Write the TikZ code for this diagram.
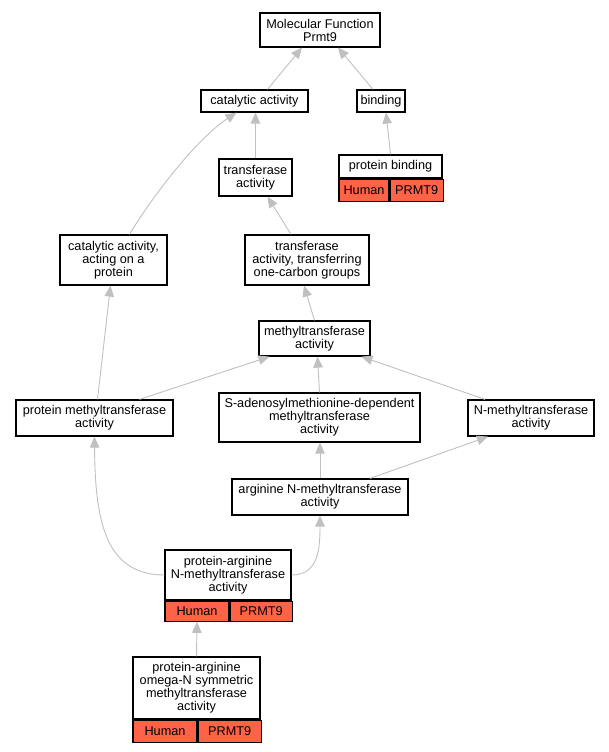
\documentclass[tikz,border=0pt]{standalone}
\usepackage{fontspec}
\setmainfont{Liberation Sans}
\usetikzlibrary{arrows.meta}

\definecolor{annotred}{RGB}{255,99,71}
\definecolor{edgegray}{RGB}{192,192,192}

\begin{document}
\begin{tikzpicture}[
    x=1pt, y=-1pt,
    font=\fontsize{12.7}{13}\selectfont,
    term/.style={draw,line width=1.2pt,fill=white,align=center,inner sep=0pt},
    annot/.style={draw,line width=1.2pt,fill=annotred,inner sep=0pt,minimum height=#1,anchor=north west},
    edge/.style={draw=edgegray,line width=0.9pt,-{Triangle[length=11pt,width=9.5pt,fill=edgegray]}}
]
\useasboundingbox (0,0) rectangle (609,752);

% Top levels
\node[term,minimum width=120pt,minimum height=34pt] (mf) at (320,30) {Molecular Function\\Prmt9};
\node[term,minimum width=107pt,minimum height=22pt] (cat) at (254.5,101) {catalytic activity};
\node[term,minimum width=48pt,minimum height=22pt] (bind) at (381,101) {binding};

\node[term,minimum width=73pt,minimum height=37pt] (trans) at (255.5,177.5) {transferase\\activity};

% protein binding with annotation
\node[term,minimum width=103pt,minimum height=23pt] (pbind) at (390.5,166.5) {protein binding};
\node[annot=22pt,minimum width=50pt] (pbind-h) at (pbind.south west) {Human};
\node[annot=22pt,minimum width=53pt] (pbind-g) at (pbind-h.north east) {PRMT9};

% Middle levels
\node[term,minimum width=107pt,minimum height=50pt] (cap) at (113.5,260) {catalytic activity,\\acting on a\\protein};
\node[term,minimum width=124pt,minimum height=50pt] (onec) at (307,260) {transferase\\activity, transferring\\one-carbon groups};
\node[term,minimum width=111pt,minimum height=35pt] (meth) at (314.5,338.5) {methyltransferase\\activity};

\node[term,minimum width=157pt,minimum height=36pt] (pmeth) at (94.5,418) {protein methyltransferase\\activity};
\node[term,minimum width=201pt,minimum height=49pt] (sam) at (319.5,417.5) {S-adenosylmethionine-dependent\\methyltransferase\\activity};
\node[term,minimum width=126pt,minimum height=36pt] (nmeth) at (531,418) {N-methyltransferase\\activity};

\node[term,minimum width=176pt,minimum height=36pt] (arg) at (320,497) {arginine N-methyltransferase\\activity};

% Annotated leaves
\node[term,minimum width=126pt,minimum height=50pt] (panm) at (228,575) {protein-arginine\\N-methyltransferase\\activity};
\node[annot=20pt,minimum width=64pt] (panm-h) at (panm.south west) {Human};
\node[annot=20pt,minimum width=62pt] (panm-g) at (panm-h.north east) {PRMT9};

\node[term,minimum width=127pt,minimum height=62pt] (omega) at (196.5,688) {protein-arginine\\omega-N symmetric\\methyltransferase\\activity};
\node[annot=22pt,minimum width=64pt] (omega-h) at (omega.south west) {Human};
\node[annot=22pt,minimum width=63pt] (omega-g) at (omega-h.north east) {PRMT9};

% Edges
\draw[edge] ([xshift=13pt]cat.north) -- ([xshift=-18pt]mf.south);
\draw[edge] ([xshift=-8pt]bind.north) -- ([xshift=18pt]mf.south);
\draw[edge] (trans.north) -- (trans.north |- cat.south);
\draw[edge] (pbind.north) -- ([xshift=5pt]bind.south);
\draw[edge] ([xshift=16pt]cap.north) .. controls (150,200) and (195,140) .. ([xshift=-18pt]cat.south);
\draw[edge] ([xshift=-16pt]onec.north) -- ([xshift=12pt]trans.south);
\draw[edge] (meth.north) -- ([xshift=-3pt]onec.south);
\draw[edge] ([xshift=3pt]pmeth.north) -- ([xshift=-3pt]cap.south);
\draw[edge] ([xshift=45pt]pmeth.north) -- ([xshift=-45pt]meth.south);
\draw[edge] (sam.north) -- ([xshift=3pt]meth.south);
\draw[edge] ([xshift=-46pt]nmeth.north) -- ([xshift=47pt]meth.south);
\draw[edge] (arg.north) -- (arg.north |- sam.south);
\draw[edge] ([xshift=50pt]arg.north) -- ([xshift=-43pt]nmeth.south);
\draw[edge] (panm.west) .. controls (105,575) and (95,520) .. (pmeth.south);
\draw[edge] (panm.east) .. controls (318,575) and (320,550) .. (arg.south);
\draw[edge] (omega.north) -- (panm-h.south);

\end{tikzpicture}
\end{document}
